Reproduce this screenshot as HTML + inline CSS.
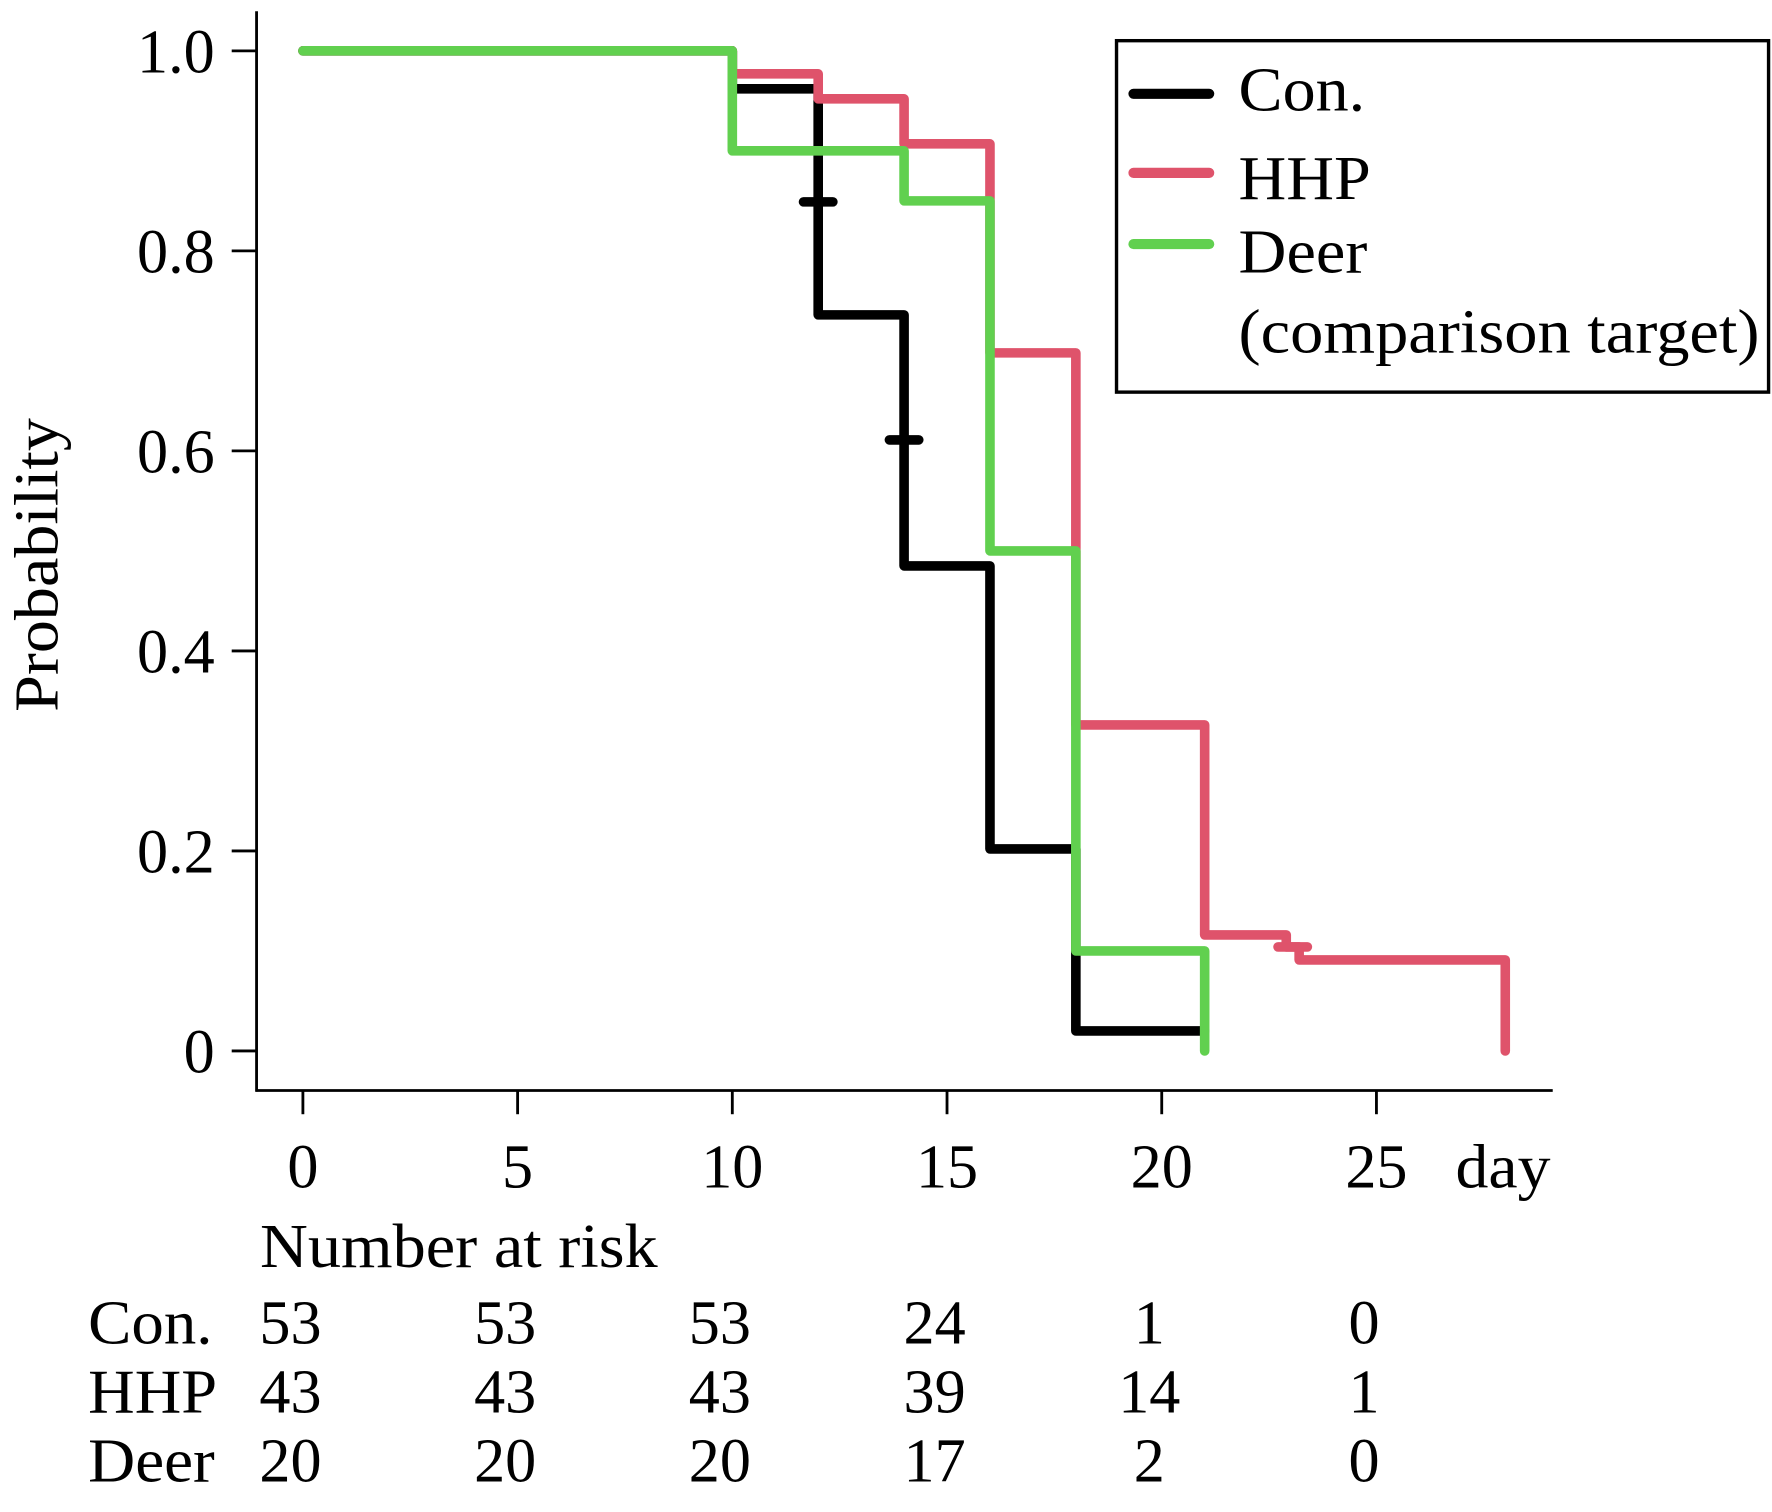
<!DOCTYPE html>
<html><head><meta charset="utf-8"><style>
html,body{margin:0;padding:0;background:#fff}
svg{display:block}
text{font-family:"Liberation Serif",serif;fill:#000}
</style></head><body>
<svg id="chart" width="1772" height="1512" viewBox="0 0 1568 1338" xmlns="http://www.w3.org/2000/svg">
<g id="axes"></g>
<g id="series"></g>
<g id="legend">
<rect x="988" y="36" width="577" height="311" fill="#fff" stroke="#000" stroke-width="3"/>
<line x1="1003" y1="83" x2="1070" y2="83" stroke="#000" stroke-width="9" stroke-linecap="round"/>
<text x="1096" y="98" font-size="55" textLength="112" lengthAdjust="spacingAndGlyphs">Con.</text>
<line x1="1003" y1="153" x2="1070" y2="153" stroke="#DF536B" stroke-width="9" stroke-linecap="round"/>
<text x="1096" y="176" font-size="55" textLength="117" lengthAdjust="spacingAndGlyphs">HHP</text>
<line x1="1003" y1="216" x2="1070" y2="216" stroke="#61D04F" stroke-width="9" stroke-linecap="round"/>
<text x="1096" y="241" font-size="55" textLength="114" lengthAdjust="spacingAndGlyphs">Deer</text>
<text x="1096" y="312" font-size="55" textLength="461" lengthAdjust="spacingAndGlyphs">(comparison target)</text>
</g>
<g id="risk"></g>
</svg>
<script>
const xTicks=[0,5,10,15,20,25];
const yTicks=[0,0.2,0.4,0.6,0.8,1.0];
const yTickLabels=["0","0.2","0.4","0.6","0.8","1.0"];
const conTimes=[0,10,12,12,14,14,16,18,21];
const conSurv=[1,0.962,0.849,0.736,0.611,0.485,0.202,0.02,0.02];
const conCensorT=[12,14];
const conCensorS=[0.849,0.611];
const hhpTimes=[0,10,12,14,16,18,21,22.9,23.2,28,28];
const hhpSurv=[1,0.977,0.952,0.907,0.698,0.326,0.116,0.104,0.091,0.091,0];
const hhpCensorT=[23.05];
const hhpCensorS=[0.104];
const deerTimes=[0,10,14,16,18,21,21];
const deerSurv=[1,0.9,0.85,0.5,0.1,0.1,0];
const riskGroups=["Con.","HHP","Deer"];
const riskCon=[53,53,53,24,1,0];
const riskHHP=[43,43,43,39,14,1];
const riskDeer=[20,20,20,17,2,0];

const NS="http://www.w3.org/2000/svg";
const X=d=>268+d*38;
const Y=p=>930-p*885;
const FS=55;
function mk(tag,attrs,parent,txt){const e=document.createElementNS(NS,tag);for(const k in attrs)e.setAttribute(k,attrs[k]);if(txt!==undefined)e.textContent=txt;parent.appendChild(e);return e;}
const axes=document.getElementById('axes');
let e;
e=mk('line',{x1:227,y1:10,x2:227,y2:966,stroke:'#000','stroke-width':2.5},axes);


e=mk('line',{x1:226,y1:965,x2:1374,y2:965,stroke:'#000','stroke-width':2.5},axes);


yTicks.forEach((v,i)=>{
 const t=mk('line',{x1:205,y1:Y(v),x2:227,y2:Y(v),stroke:'#000','stroke-width':2.5},axes);
 
 
 const l=mk('text',{x:190,y:Y(v)+19,'font-size':FS,'text-anchor':'end'},axes,yTickLabels[i]);
 
 
});
xTicks.forEach(v=>{
 const t=mk('line',{x1:X(v),y1:965,x2:X(v),y2:986,stroke:'#000','stroke-width':2.5},axes);
 
 
 const l=mk('text',{x:X(v),y:1051,'font-size':FS,'text-anchor':'middle'},axes,String(v));
 
 
});
e=mk('text',{x:1288,y:1051,'font-size':FS,textLength:84,lengthAdjust:'spacingAndGlyphs'},axes,'day');


e=mk('text',{x:0,y:0,'font-size':FS,'text-anchor':'middle',textLength:260,lengthAdjust:'spacingAndGlyphs',transform:'translate(51,500) rotate(-90)'},axes,'Probability');



const series=document.getElementById('series');
function stepPath(T,S){let d='M'+X(T[0])+' '+Y(S[0]);for(let i=1;i<T.length;i++){d+=' H'+X(T[i])+' V'+Y(S[i]);}return d;}
function drawSeries(T,S,CT,CS,col,name){
 const p=mk('path',{d:stepPath(T,S),fill:'none',stroke:col,'stroke-width':8.5,'stroke-linejoin':'round','stroke-linecap':'round'},series);
 
 
 CT.forEach((t,i)=>{
  const c=mk('line',{x1:X(t)-13,y1:Y(CS[i]),x2:X(t)+13,y2:Y(CS[i]),stroke:col,'stroke-width':8.5,'stroke-linecap':'round'},series);
  
  
 });
}
drawSeries(conTimes,conSurv,conCensorT,conCensorS,'#000','con');
drawSeries(hhpTimes,hhpSurv,hhpCensorT,hhpCensorS,'#DF536B','hhp');
drawSeries(deerTimes,deerSurv,[],[],'#61D04F','deer');

const risk=document.getElementById('risk');
e=mk('text',{x:230,y:1121,'font-size':FS,textLength:352,lengthAdjust:'spacingAndGlyphs'},risk,'Number at risk');


const rows=[riskCon,riskHHP,riskDeer];
const rowY=[1189,1250,1311];
const labelW=[110,114,112];
rows.forEach((r,ri)=>{
 const g=mk('text',{x:78,y:rowY[ri],'font-size':FS,textLength:labelW[ri],lengthAdjust:'spacingAndGlyphs'},risk,riskGroups[ri]);
 
 
 r.forEach((n,i)=>{
  const t=mk('text',{x:X(xTicks[i])-11,y:rowY[ri],'font-size':FS,'text-anchor':'middle'},risk,String(n));
  
  
 });
});
</script>
</body></html>
